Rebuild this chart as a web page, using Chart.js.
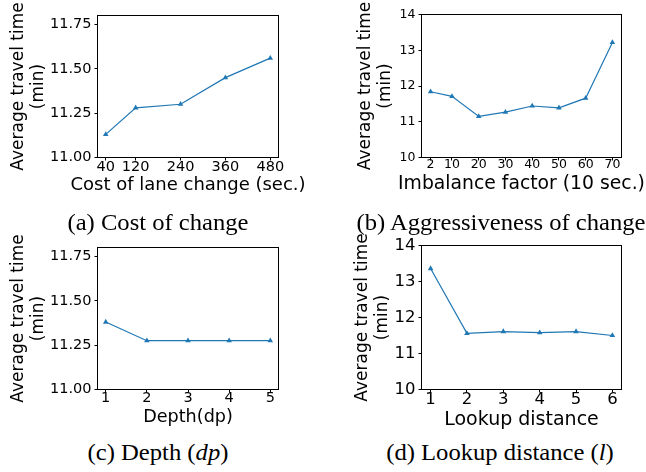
<!DOCTYPE html>
<html><head><meta charset="utf-8">
<script src="https://cdn.jsdelivr.net/npm/chart.js@4/dist/chart.umd.min.js"></script>
<style>
html,body{margin:0;padding:0;background:#fff;}
#page{position:relative;width:646px;height:472px;overflow:hidden;background:#fff;}
canvas{position:absolute;}
.cap{position:absolute;font-family:"Liberation Serif","Times New Roman",serif;font-size:23px;line-height:1;white-space:nowrap;color:#000;transform:translateX(-50%) scaleX(1.07);}
</style></head><body>
<div id="page">
<canvas id="ca" width="323" height="200" style="left:0px;top:0px"></canvas>
<canvas id="cb" width="323" height="200" style="left:323px;top:0px"></canvas>
<canvas id="cc" width="323" height="205" style="left:0px;top:230px"></canvas>
<canvas id="cd" width="323" height="205" style="left:323px;top:230px"></canvas>
<div class="cap" style="left:157.5px;top:210.7px">(a) Cost of change</div>
<div class="cap" style="left:501px;top:210.7px">(b) Aggressiveness of change</div>
<div class="cap" style="left:157.6px;top:440.7px">(c) Depth (<i>dp</i>)</div>
<div class="cap" style="left:500px;top:440.7px">(d) Lookup distance (<i>l</i>)</div>
</div>
<script>
// ---- data ----
const costX = [40, 120, 240, 360, 480];
const costY = [11.13, 11.28, 11.30, 11.45, 11.56];
const imbX = [2, 10, 20, 30, 40, 50, 60, 70];
const imbY = [11.84, 11.71, 11.15, 11.27, 11.44, 11.39, 11.66, 13.22];
const depthX = [1, 2, 3, 4, 5];
const depthY = [11.38, 11.275, 11.275, 11.275, 11.275];
const lookX = [1, 2, 3, 4, 5, 6];
const lookY = [13.36, 11.56, 11.61, 11.58, 11.61, 11.50];
const yTicksSmall = [11.00, 11.25, 11.50, 11.75];
const yTickLabelsSmall = ['11.00', '11.25', '11.50', '11.75'];
const yTicksBig = [10, 11, 12, 13, 14];
const yTickLabelsBig = ['10', '11', '12', '13', '14'];
const yTitle = ['Average travel time', '(min)'];

Chart.defaults.font.family = "'DejaVu Sans', sans-serif";
Chart.defaults.color = '#000';

const framePlugin = {
  id: 'frame',
  afterDraw(chart) {
    const {ctx, chartArea: a} = chart;
    ctx.save();
    ctx.strokeStyle = '#000';
    ctx.lineWidth = 1;
    ctx.strokeRect(a.left, a.top, a.right - a.left, a.bottom - a.top);
    ctx.restore();
  }
};

// x-axis title drawn without the width squeeze Chart.js applies
const xTitlePlugin = {
  id: 'xtitle',
  afterDraw(chart, args, o) {
    const {ctx, chartArea: a} = chart;
    ctx.save();
    ctx.fillStyle = '#000';
    ctx.font = o.size + "px 'DejaVu Sans', sans-serif";
    ctx.textAlign = 'center';
    ctx.textBaseline = 'alphabetic';
    ctx.fillText(o.text, (a.left + a.right) / 2, o.baseline);
    ctx.restore();
  }
};

function makePanel(id, p) {
  const pts = p.xs.map((x, i) => ({x: x, y: p.ys[i]}));
  return new Chart(document.getElementById(id), {
    type: 'line',
    data: {datasets: [{
      data: pts,
      borderColor: '#1f77b4',
      backgroundColor: '#1f77b4',
      borderWidth: 1.2,
      pointStyle: 'triangle',
      pointRadius: 3.2,
      pointBorderWidth: 0,
      tension: 0,
      fill: false
    }]},
    options: {
      responsive: false,
      animation: false,
      events: [],
      layout: {padding: {top: p.padTop, right: p.padRight, left: 0, bottom: 0}},
      plugins: {
        legend: {display: false}, tooltip: {enabled: false},
        xtitle: {text: p.xTitle, size: p.xTitleSize, baseline: p.xTitleBase}
      },
      scales: {
        x: {
          type: 'linear', min: p.xMin, max: p.xMax,
          afterBuildTicks: s => { s.ticks = p.xs.map(v => ({value: v})); },
          afterFit: s => { s.height = p.xH; },
          ticks: {callback: v => String(v), autoSkip: false, maxRotation: 0,
                  font: {size: p.xTickSize, lineHeight: 1}, padding: p.xTickPad, color: '#000'},
          grid: {drawOnChartArea: false, drawTicks: true, tickLength: 3, tickWidth: 1, tickColor: '#000'},
          border: {display: false},
          title: {display: false}
        },
        y: {
          type: 'linear', min: p.yMin, max: p.yMax,
          afterBuildTicks: s => { s.ticks = p.yTicks.map(v => ({value: v})); },
          afterFit: s => { s.width = p.yW; },
          ticks: {callback: (v) => p.yLabels[p.yTicks.indexOf(v)] ?? String(v),
                  font: {size: p.yTickSize, lineHeight: 1}, padding: 3, color: '#000'},
          grid: {drawOnChartArea: false, drawTicks: true, tickLength: 3, tickWidth: 1, tickColor: '#000'},
          border: {display: false},
          title: {display: true, text: yTitle, color: '#000',
                  font: {size: 17, lineHeight: 20 / 17}, padding: {top: p.yTitlePad, bottom: 0}}
        }
      }
    },
    plugins: [framePlugin, xTitlePlugin]
  });
}

makePanel('ca', {xs: costX, ys: costY, xMin: 18, xMax: 502, yMin: 11.0, yMax: 11.8,
  yTicks: yTicksSmall, yLabels: yTickLabelsSmall, padTop: 15.5, padRight: 44.5, yW: 97.5, xH: 42.5,
  xTickSize: 14.5, yTickSize: 14.5, xTickPad: -0.55,
  xTitle: 'Cost of lane change (sec.)', xTitleSize: 18, xTitleBase: 189.5, yTitlePad: 8.3});
makePanel('cb', {xs: imbX, ys: imbY, xMin: -1.4, xMax: 73.4, yMin: 10, yMax: 14,
  yTicks: yTicksBig, yLabels: yTickLabelsBig, padTop: 14.5, padRight: 24.5, yW: 98.5, xH: 42.5,
  xTickSize: 12.5, yTickSize: 12.5, xTickPad: -1.75,
  xTitle: 'Imbalance factor (10 sec.)', xTitleSize: 18.8, xTitleBase: 189.2, yTitlePad: 33});
makePanel('cc', {xs: depthX, ys: depthY, xMin: 0.8, xMax: 5.2, yMin: 11.0, yMax: 11.8,
  yTicks: yTicksSmall, yLabels: yTickLabelsSmall, padTop: 17.5, padRight: 44.5, yW: 97.5, xH: 45.5,
  xTickSize: 14.5, yTickSize: 14.5, xTickPad: -1.75,
  xTitle: 'Depth(dp)', xTitleSize: 17.6, xTitleBase: 191.8, yTitlePad: 8.3});
makePanel('cd', {xs: lookX, ys: lookY, xMin: 0.75, xMax: 6.25, yMin: 10, yMax: 14,
  yTicks: yTicksBig, yLabels: yTickLabelsBig, padTop: 15.5, padRight: 24.5, yW: 98.5, xH: 45.5,
  xTickSize: 16.5, yTickSize: 16.5, xTickPad: -0.75,
  xTitle: 'Lookup distance', xTitleSize: 19, xTitleBase: 195, yTitlePad: 30});
</script>
</body></html>
